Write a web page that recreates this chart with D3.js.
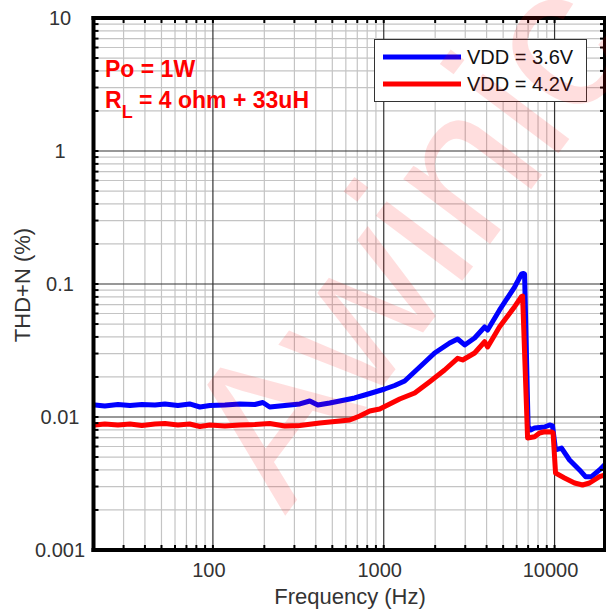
<!DOCTYPE html>
<html><head><meta charset="utf-8">
<script src="https://cdn.jsdelivr.net/npm/d3@7"></script>
<style>html,body{margin:0;padding:0;background:#fff;}svg{display:block;font-family:"Liberation Sans",Arial,sans-serif;}</style>
</head><body>
<svg id="chart" width="606" height="611"></svg>
<script>
// ---- data ----
const xTickValues = [100, 1000, 10000];
const xTickLabels = ["100", "1000", "10000"];
const yTickValues = [0.001, 0.01, 0.1, 1, 10];
const yTickLabels = ["0.001", "0.01", "0.1", "1", "10"];
const seriesNames = ["VDD = 3.6V", "VDD = 4.2V"];
const seriesColors = ["#0000ff", "#ff0000"];

const freq36 = [20.4,23.3,27.8,32.7,38.4,45.8,52.4,62.4,73,83.9,96,117.5,143.8,176,196,215,263.6,322.6,369,411,483,591,676,774,886,1013,1159,1326,1624,1986,2431,2707,2976,3404,3896,4056,4766,5834,6410,6584,6674,7000,7237,7638,8734,9346,9730,10132,10986,12236,13996,15172,16452,18322,19590];
const thd36  = [0.01231,0.0121,0.01242,0.01221,0.01242,0.01231,0.01253,0.01221,0.01253,0.01189,0.01221,0.01231,0.01253,0.01242,0.01285,0.01189,0.01221,0.01253,0.01319,0.01231,0.01274,0.01342,0.0139,0.01464,0.01542,0.01624,0.01725,0.01865,0.02377,0.0303,0.036,0.0386,0.0348,0.0393,0.0475,0.0451,0.0638,0.0949,0.1189,0.1199,0.119,0.0085,0.00798,0.00827,0.00841,0.00871,0.00856,0.00565,0.00584,0.00475,0.004,0.00356,0.00356,0.004,0.00436];

const freq42 = [20.4,23.3,27.8,32.7,38.4,45.8,52.4,62.4,73,83.9,96,117.5,143.8,176,215,263.6,322.6,422,517,632,724,828,947,1084,1240,1518,1858,2272,2707,2896,3404,3896,4056,4766,5834,6410,6500,6950,7638,8166,8734,9598,9800,10132,11433,13088,14576,16018,18322,19590];
const thd42  = [0.00871,0.00886,0.00871,0.00886,0.00863,0.00886,0.00893,0.00871,0.00886,0.00848,0.00871,0.00856,0.00871,0.00878,0.00893,0.00856,0.00863,0.00902,0.00925,0.00949,0.01017,0.01109,0.01149,0.01253,0.01365,0.01516,0.01843,0.02256,0.0276,0.02683,0.0303,0.0368,0.0336,0.0477,0.0675,0.0805,0.081,0.00695,0.00711,0.00758,0.00775,0.00772,0.0076,0.00379,0.00348,0.00319,0.00308,0.00319,0.00356,0.00366];

const annot1 = "Po = 1W";
const annot2a = "R", annot2sub = "L", annot2b = " = 4 ohm + 33uH";
const xTitle = "Frequency (Hz)";
const yTitle = "THD+N (%)";
const watermark = "Awinic";

// ---- layout ----
const svg = d3.select("#chart");
const L = 93.5, R = 606, T = 18, B = 550;
const x = d3.scaleLog().domain([20, 20000]).range([L, R]);
const y = d3.scaleLog().domain([0.001, 10]).range([B, T]);

svg.append("defs").append("clipPath").attr("id","clip")
  .append("rect").attr("x",L).attr("y",T).attr("width",R-L).attr("height",B-T);

const xMinor = [], yMinor = [];
[10,100,1000,10000].forEach(d => { for (let k=2;k<=9;k++){ const v=d*k; if (v>20 && v<20000) xMinor.push(v);} });
[0.001,0.01,0.1,1].forEach(d => { for (let k=2;k<=9;k++) yMinor.push(d*k); });

const grid = svg.append("g");
grid.selectAll(".vx").data(xMinor).join("line")
  .attr("x1",d=>x(d)).attr("x2",d=>x(d)).attr("y1",T).attr("y2",B)
  .attr("stroke","#c4c4c4").attr("stroke-width",1.2);
grid.selectAll(".hy").data(yMinor).join("line")
  .attr("x1",L).attr("x2",R).attr("y1",d=>y(d)).attr("y2",d=>y(d))
  .attr("stroke","#c4c4c4").attr("stroke-width",1.2);
grid.selectAll(".vmaj").data(xTickValues).join("line")
  .attr("x1",d=>x(d)).attr("x2",d=>x(d)).attr("y1",T).attr("y2",B)
  .attr("stroke","#333").attr("stroke-width",1.2);
grid.selectAll(".hmaj").data(yTickValues).join("line")
  .attr("x1",L).attr("x2",R).attr("y1",d=>y(d)).attr("y2",d=>y(d))
  .attr("stroke","#333").attr("stroke-width",1.2);

// series
const line = d3.line().x(d=>x(d[0])).y(d=>y(d[1]));
const plot = svg.append("g").attr("clip-path","url(#clip)");
[[freq36,thd36],[freq42,thd42]].forEach((s,i)=>{
  plot.append("path").datum(d3.zip(s[0],s[1]))
    .attr("d",line).attr("fill","none").attr("stroke",seriesColors[i])
    .attr("stroke-width",5).attr("stroke-linejoin","round").attr("stroke-linecap","round");
});

// frame and ticks
const frame = svg.append("g");
frame.append("line").attr("x1",L).attr("x2",L).attr("y1",T-2).attr("y2",B+2).attr("stroke","#000").attr("stroke-width",4);
frame.append("line").attr("x1",L-2).attr("x2",R).attr("y1",T).attr("y2",T).attr("stroke","#000").attr("stroke-width",4);
frame.append("line").attr("x1",L-2).attr("x2",R).attr("y1",B).attr("y2",B).attr("stroke","#000").attr("stroke-width",4);
frame.append("line").attr("x1",R-1.5).attr("x2",R-1.5).attr("y1",T).attr("y2",B).attr("stroke","#000").attr("stroke-width",3);
frame.selectAll(".ty").data(yMinor.concat(yTickValues)).join("line")
  .attr("x1",L).attr("x2",L+5).attr("y1",d=>y(d)).attr("y2",d=>y(d)).attr("stroke","#000").attr("stroke-width",2);
frame.selectAll(".tyr").data(yMinor.concat(yTickValues)).join("line")
  .attr("x1",R-6).attr("x2",R).attr("y1",d=>y(d)).attr("y2",d=>y(d)).attr("stroke","#000").attr("stroke-width",2);
frame.selectAll(".tx").data(xMinor.concat(xTickValues)).join("line")
  .attr("x1",d=>x(d)).attr("x2",d=>x(d)).attr("y1",T).attr("y2",T+5).attr("stroke","#000").attr("stroke-width",2);
frame.selectAll(".txb").data(xMinor.concat(xTickValues)).join("line")
  .attr("x1",d=>x(d)).attr("x2",d=>x(d)).attr("y1",B-5).attr("y2",B).attr("stroke","#000").attr("stroke-width",2);

// tick labels
svg.append("g").selectAll("text").data(yTickValues).join("text")
  .attr("x",60).attr("y",d=>y(d)).attr("dy","0.36em").attr("text-anchor","middle")
  .attr("font-size",20).attr("fill","#333").text((d,i)=>yTickLabels[i]);
svg.append("g").selectAll("text").data(xTickValues).join("text")
  .attr("x",d=>x(d)-4).attr("y",577).attr("text-anchor","middle")
  .attr("font-size",20).attr("fill","#333").text((d,i)=>xTickLabels[i]);

// titles
svg.append("text").attr("x",350).attr("y",604).attr("text-anchor","middle")
  .attr("font-size",22).attr("fill","#333").text(xTitle);
svg.append("text").attr("transform","translate(30,285) rotate(-90)").attr("text-anchor","middle")
  .attr("font-size",22).attr("fill","#333").text(yTitle);

// annotations
svg.append("text").attr("x",105).attr("y",77).attr("font-size",23).attr("font-weight","bold")
  .attr("fill","#ff0000").text(annot1);
const t2 = svg.append("text").attr("x",105).attr("y",108).attr("font-size",23).attr("font-weight","bold").attr("fill","#ff0000");
t2.append("tspan").text(annot2a);
t2.append("tspan").attr("font-size",18).attr("dy",10).text(annot2sub);
t2.append("tspan").attr("dy",-10).text(annot2b);

// legend
const lg = svg.append("g");
lg.append("rect").attr("x",374.5).attr("y",39.5).attr("width",212).attr("height",62)
  .attr("fill","#fff").attr("stroke","#333").attr("stroke-width",1);
seriesNames.forEach((n,i)=>{
  const yy = 57 + i*27;
  lg.append("line").attr("x1",383).attr("x2",461).attr("y1",yy).attr("y2",yy)
    .attr("stroke",seriesColors[i]).attr("stroke-width",5);
  lg.append("text").attr("x",467).attr("y",yy).attr("dy","0.36em").attr("font-size",20)
    .attr("fill","#111").text(n);
});

// watermark
svg.append("text").attr("transform","translate(405,238) rotate(-53)")
  .attr("text-anchor","middle").attr("dominant-baseline","central")
  .attr("font-size",205).attr("fill","#ff0000").attr("fill-opacity",0.13)
  .text(watermark);
</script>
</body></html>
